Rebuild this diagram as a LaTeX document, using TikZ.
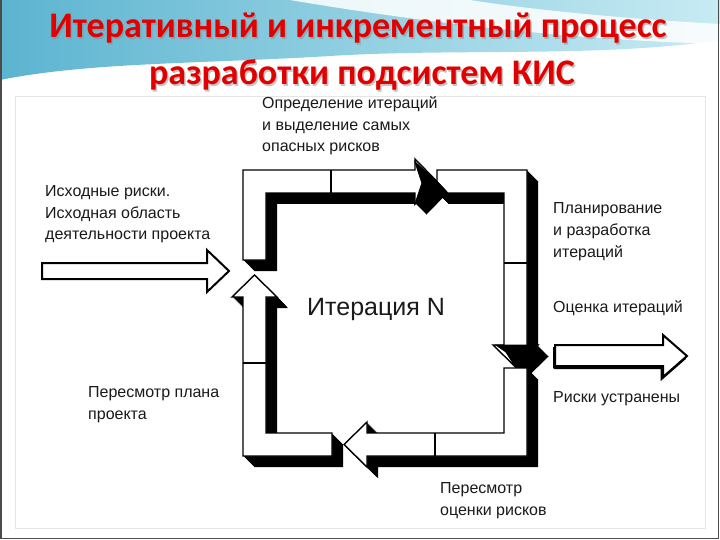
\documentclass[tikz,border=0pt]{standalone}
\usepackage{fontspec}
\setmainfont{Liberation Sans}
\newfontfamily\titlefont{Carlito}
\definecolor{tealL}{HTML}{5CB4D0}
\definecolor{tealR}{HTML}{C8EBF3}
\definecolor{titlered}{HTML}{E00000}
\definecolor{txt}{HTML}{1A1A1A}
\newcommand\larrow[1]{%
  \foreach \i in {11,...,1}{\fill[black,shift={(\i,\i)}] #1;}%
  \filldraw[face] #1;}
\begin{document}
\begin{tikzpicture}[x=1pt,y=-1pt,
  face/.style={fill=white,draw=black,line width=1.4pt,line join=miter},
  lbl/.style={font=\fontsize{16}{21.8}\selectfont,text=txt,align=left,inner sep=0,anchor=base west},
  ttl/.style={font=\titlefont\bfseries\fontsize{36}{40}\selectfont,inner sep=0,anchor=base},
  divider/.style={line width=1.4pt},
  darkhead/.style={fill=black,draw=black,line width=1pt,line join=miter},
  bigarrow/.style={fill=white,draw=black,line width=2pt,line join=miter}]
\useasboundingbox (0,0) rectangle (720,540);
\fill[white] (0,0) rectangle (720,540);
% header background
\shade[left color=tealL,right color=tealR] (0,0) -- (720,0) -- (720,40)
  .. controls (600,58) and (460,48) .. (330,56)
  .. controls (200,64) and (90,62) .. (0,80) -- cycle;
\fill[white,opacity=0.85] (290,0) .. controls (420,22) and (570,40) .. (720,44)
  -- (720,24) .. controls (610,18) and (520,8) .. (470,0) -- cycle;
\draw[white,line width=3pt] (0,86) .. controls (150,62) and (330,60) .. (720,62);
\draw[black!10] (15,96) rectangle (705,528);
\draw[black!70,line width=1.2pt] (1,0) -- (1,538.5) -- (718.5,538.5) -- (718.5,0);
% title
\node[ttl,text=black!45,opacity=0.5] (t1s) at (359.5,39.5) {Итеративный и инкрементный процесс};
\node[ttl,text=titlered] (t1) at (358,38) {Итеративный и инкрементный процесс};
\node[ttl,text=black!45,opacity=0.5] (t2s) at (363.5,86.5) {разработки подсистем КИС};
\node[ttl,text=titlered] (t2) at (362,85) {разработки подсистем КИС};
% loop arrows
\larrow{(437,170) -- (527,170) -- (527,345) -- (538,345) -- (515.5,367) -- (493,345) -- (504,345) -- (504,193) -- (437,193) -- cycle}
\filldraw[darkhead] (496,345) -- (538,345) -- (522,362) -- (515.5,367) -- (506,352) -- cycle;
\larrow{(243,260) -- (243,170) -- (415,170) -- (415,159) -- (437,181.5) -- (415,204) -- (415,193) -- (266,193) -- (266,260) -- cycle}
\filldraw[darkhead] (415,162) -- (437,181.5) -- (415,204) -- (422,183) -- cycle;
\larrow{(332,433) -- (332,456) -- (243,456) -- (243,297) -- (232,297) -- (254.5,275) -- (277,297) -- (266,297) -- (266,433) -- cycle}
\larrow{(504,368) -- (527,368) -- (527,456) -- (367,456) -- (367,467) -- (344,444.5) -- (367,422) -- (367,433) -- (504,433) -- cycle}
\draw[divider] (331,170) -- (331,193);
\draw[divider] (504,263) -- (527,263);
\draw[divider] (435,433) -- (435,456);
\draw[divider] (243,363) -- (266,363);
% input / output arrows
\filldraw[bigarrow] (42,263) -- (207,263) -- (207,250) -- (229,271) -- (207,292) -- (207,279) -- (42,279) -- cycle;
\draw[line width=2pt,shift={(-1.5,2)}] (555,366) -- (663,366) -- (663,377) -- (687,356);
\draw[line width=2pt,shift={(-1.5,2)}] (555,345) -- (555,366);
\filldraw[bigarrow] (555,345) -- (663,345) -- (663,335) -- (687,356) -- (663,377) -- (663,366) -- (555,366) -- cycle;
% labels (base anchor = baseline of the last line)
\node[font=\fontsize{25}{28}\selectfont,text=txt,inner sep=0,anchor=base west] (iter) at (307,315) {Итерация N};
\node[lbl] (l1) at (262,152) {Определение итераций\\и выделение самых\\опасных рисков};
\node[lbl] (l2) at (45,240) {Исходные риски.\\Исходная область\\деятельности проекта};
\node[lbl] (l3) at (553,257) {Планирование\\и разработка\\итераций};
\node[lbl] (l4) at (553,312) {Оценка итераций};
\node[lbl] (l5) at (553,402) {Риски устранены};
\node[lbl] (l6) at (88,419) {Пересмотр плана\\проекта};
\node[lbl] (l7) at (440,515) {Пересмотр\\оценки рисков};
\end{tikzpicture}
\end{document}
